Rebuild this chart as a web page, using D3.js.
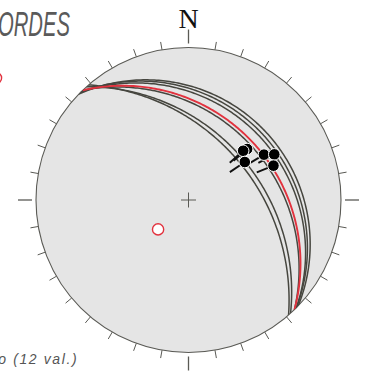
<!DOCTYPE html>
<html><head><meta charset="utf-8">
<script src="https://cdn.jsdelivr.net/npm/d3@7"></script>
<style>html,body{margin:0;padding:0;background:#fff;}svg{display:block;}</style>
</head><body>
<svg id="chart" width="365" height="376"></svg>
<script>
// ---- data ----
const planeDipDir = [48, 49, 46, 45, 45, 44];
const planeDip    = [42, 45, 33, 26, 24, 22];
const meanDipDir = 46;
const meanDip = 31;
const poleTrend = 226;
const polePlunge = 59;
const lineTrend  = [49, 48, 56, 59, 62, 68];
const linePlunge = [36, 38.5, 42, 30, 25, 28];
const tickAzimuths = d3.range(0, 360, 10);
const titleText = "ORDES";
const northLabel = "N";
const noteText = "o (12 val.)";

// ---- layout ----
const cx = 188.5, cy = 200, R = 152.5;
const svg = d3.select("#chart");
const sx = d3.scaleLinear().domain([-1, 1]).range([cx - R, cx + R]);
const sy = d3.scaleLinear().domain([-1, 1]).range([cy + R, cy - R]);
const rad = Math.PI / 180;

// Wulff (equal-angle), lower hemisphere
function proj(trend, plunge) {
  const r = Math.tan((90 - plunge) / 2 * rad);
  return [sx(r * Math.sin(trend * rad)), sy(r * Math.cos(trend * rad))];
}
function greatCircle(dd, dip) {
  const s = (dd - 90) * rad, d = dd * rad, dp = dip * rad;
  const sv = [Math.sin(s), Math.cos(s), 0];
  const dv = [Math.sin(d) * Math.cos(dp), Math.cos(d) * Math.cos(dp), Math.sin(dp)];
  return d3.range(0, 180.5, 1).map(a => {
    const ca = Math.cos(a * rad), sa = Math.sin(a * rad);
    const v = [ca * sv[0] + sa * dv[0], ca * sv[1] + sa * dv[1], ca * sv[2] + sa * dv[2]];
    const tr = Math.atan2(v[0], v[1]) / rad;
    const pl = Math.asin(Math.max(-1, Math.min(1, v[2]))) / rad;
    return proj(tr, pl);
  });
}
const line = d3.line();

// primitive
svg.append("circle").attr("cx", cx).attr("cy", cy).attr("r", R)
  .attr("fill", "#e5e5e5").attr("stroke", "#5a5a55").attr("stroke-width", 1.1);

svg.append("clipPath").attr("id", "prim").append("circle")
  .attr("cx", cx).attr("cy", cy).attr("r", R);
const g = svg.append("g").attr("clip-path", "url(#prim)");

planeDipDir.forEach((dd, i) => {
  g.append("path").attr("d", line(greatCircle(dd, planeDip[i])))
    .attr("fill", "none").attr("stroke", "#46463f").attr("stroke-width", 1.5);
});
g.append("path").attr("d", line(greatCircle(meanDipDir, meanDip)))
  .attr("fill", "none").attr("stroke", "#e2323e").attr("stroke-width", 1.9);

// lineations with tails
lineTrend.forEach((t, i) => {
  const [x, y] = proj(t, linePlunge[i]);
  const ang = Math.atan2(cy - y, cx - x);
  const L = 18;
  g.append("line").attr("x1", x).attr("y1", y)
    .attr("x2", x + L * Math.cos(ang)).attr("y2", y + L * Math.sin(ang))
    .attr("stroke", "#111").attr("stroke-width", 1.9);
});
lineTrend.forEach((t, i) => {
  const [x, y] = proj(t, linePlunge[i]);
  g.append("circle").attr("cx", x).attr("cy", y).attr("r", 5.8)
    .attr("fill", "#000").attr("stroke", "#fff").attr("stroke-width", 1);
});

// center cross
svg.append("path").attr("d", `M${cx - 7.5},${cy}H${cx + 7.5}M${cx},${cy - 7.5}V${cy + 7.5}`)
  .attr("stroke", "#5a5a55").attr("stroke-width", 1);

// pole of mean plane
const pp = proj(poleTrend, polePlunge);
svg.append("circle").attr("cx", pp[0]).attr("cy", pp[1]).attr("r", 5.6)
  .attr("fill", "#fff").attr("stroke", "#e2323e").attr("stroke-width", 1.4);

// ticks
tickAzimuths.forEach(a => {
  const card = a % 90 === 0;
  const r0 = card ? R + 4 : R, r1 = card ? R + 18 : R + 8;
  const s = Math.sin(a * rad), c = Math.cos(a * rad);
  svg.append("line")
    .attr("x1", cx + r0 * s).attr("y1", cy - r0 * c)
    .attr("x2", cx + r1 * s).attr("y2", cy - r1 * c)
    .attr("stroke", "#5a5a55").attr("stroke-width", card ? 1.3 : 1);
});

svg.append("text").attr("x", cx).attr("y", 28).attr("text-anchor", "middle")
  .attr("font-family", "'Liberation Serif', 'DejaVu Serif', serif").attr("font-size", 28)
  .attr("fill", "#111").text(northLabel);

// title (cut at left, as in reference)
svg.append("text").attr("x", 70).attr("y", 36).attr("text-anchor", "end")
  .attr("font-family", "'Liberation Sans Narrow', 'Liberation Sans', sans-serif")
  .attr("font-style", "italic").attr("font-size", 35)
  .attr("textLength", 72).attr("lengthAdjust", "spacingAndGlyphs")
  .attr("fill", "#5a5a5a").text(titleText);

// legend symbol, cut at left
svg.append("circle").attr("cx", -4).attr("cy", 78).attr("r", 5.6)
  .attr("fill", "#fff").attr("stroke", "#e2323e").attr("stroke-width", 1.4);

// note
svg.append("text").attr("x", -1.7).attr("y", 364)
  .attr("font-family", "'Liberation Sans', Arial, sans-serif")
  .attr("font-style", "italic").attr("font-size", 14).attr("letter-spacing", 1.6)
  .attr("fill", "#555").text(noteText);
</script>
</body></html>
